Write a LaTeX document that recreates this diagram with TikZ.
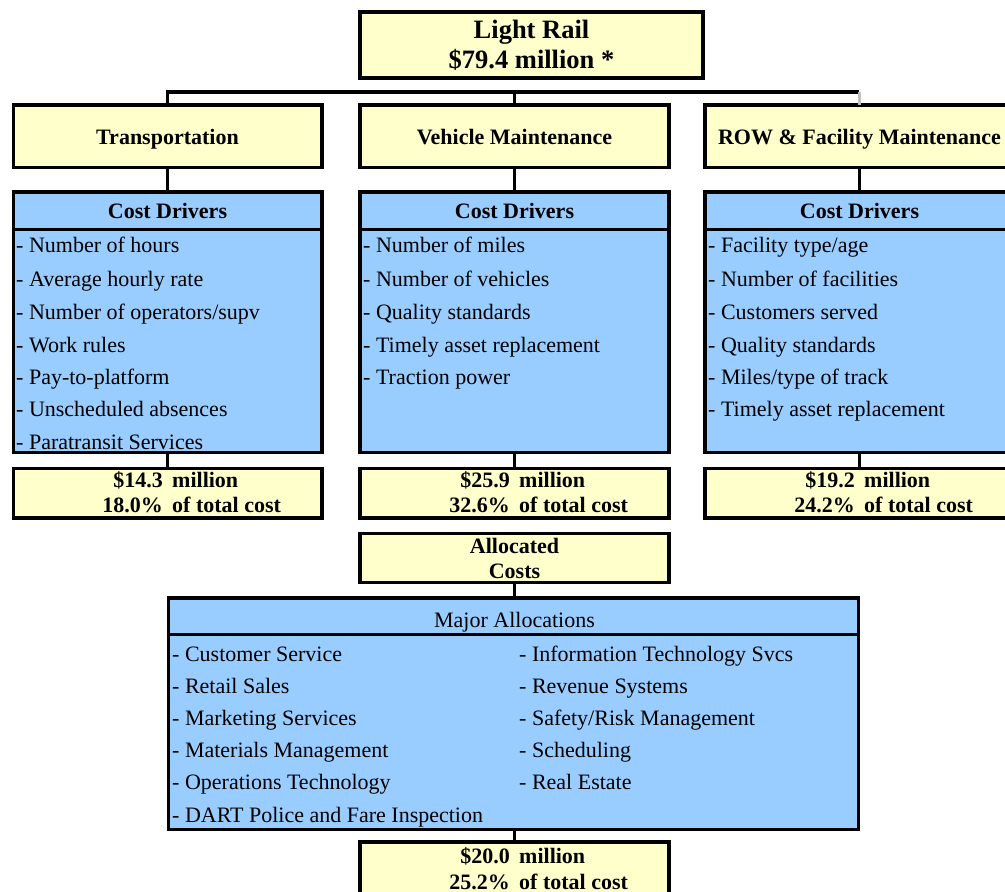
\documentclass[tikz,border=0pt]{standalone}
\usepackage{fontspec}
\setmainfont{Liberation Serif}
\definecolor{ly}{HTML}{FFFFCC}
\definecolor{lb}{HTML}{99CCFF}
\tikzset{
  ybox/.style={draw=black, line width=3.5pt, fill=ly, inner sep=0pt, outer sep=0pt},
  bbox/.style={draw=black, line width=3.5pt, fill=lb, inner sep=0pt, outer sep=0pt},
  conn/.style={draw=black, line width=3.5pt},
  divider/.style={draw=black, line width=3pt},
  hdr/.style={font=\fontsize{22}{26}\selectfont\bfseries, anchor=base, inner sep=0pt},
  big/.style={font=\fontsize{26.5}{30}\selectfont\bfseries, anchor=base, inner sep=0pt},
  item/.style={font=\fontsize{22}{26}\selectfont, anchor=base west, inner sep=0pt},
  plain/.style={font=\fontsize{22}{26}\selectfont, anchor=base, inner sep=0pt},
  numr/.style={font=\fontsize{22}{26}\selectfont\bfseries, anchor=base east, inner sep=0pt},
  numl/.style={font=\fontsize{22}{26}\selectfont\bfseries, anchor=base west, inner sep=0pt},
}
\begin{document}
\begin{tikzpicture}[x=1pt,y=-1pt]
\useasboundingbox (0,0) rectangle (1005,892);
\clip (0,0) rectangle (1005,892);
\fill[white] (0,0) rectangle (1005,892);

% ---- boxes ----
\node[ybox, minimum width=343pt, minimum height=66pt] (top) at (531.5,45) {};
\node[ybox, minimum width=308.5pt, minimum height=62.5pt] (trans) at (167.5,136.25) {};
\node[ybox, minimum width=309pt, minimum height=62.5pt] (veh) at (514.5,136.25) {};
\node[ybox, minimum width=309pt, minimum height=62.5pt] (row) at (859.5,136.25) {};

\node[bbox, minimum width=308.5pt, minimum height=260.7pt] (cd1) at (167.5,322.35) {};
\node[bbox, minimum width=309pt, minimum height=260.7pt] (cd2) at (514.5,322.35) {};
\node[bbox, minimum width=309pt, minimum height=260.7pt] (cd3) at (859.5,322.35) {};

\node[ybox, minimum width=308.5pt, minimum height=49.3pt] (m1) at (167.5,493.35) {};
\node[ybox, minimum width=309pt, minimum height=49.3pt] (m2) at (514.5,493.35) {};
\node[ybox, minimum width=309pt, minimum height=49.3pt] (m3) at (859.5,493.35) {};

\node[ybox, minimum width=309pt, minimum height=49pt] (alloc) at (514.5,558.2) {};
\node[bbox, minimum width=690pt, minimum height=231.3pt] (major) at (513.7,713.65) {};
\node[ybox, minimum width=309pt, minimum height=58pt] (m4) at (514.5,871) {};

% ---- dividers ----
\draw[divider] (cd1.west |- 0,229) -- (cd1.east |- 0,229);
\draw[divider] (cd2.west |- 0,229) -- (cd2.east |- 0,229);
\draw[divider] (cd3.west |- 0,229) -- (cd3.east |- 0,229);
\draw[divider] (major.west |- 0,634.3) -- (major.east |- 0,634.3);

% ---- connectors ----
\coordinate (busR) at (858.5,92);
\draw[conn] (trans.north) |- (busR);
\draw[conn] (veh.north) -- (veh.north |- busR);
\draw[draw=black!25, line width=3pt] (row.north) -- (row.north |- busR);
\draw[conn] (trans.south) -- (cd1.north);
\draw[conn] (veh.south) -- (cd2.north);
\draw[conn] (row.south) -- (cd3.north);
\draw[conn] (cd1.south) -- (m1.north);
\draw[conn] (cd2.south) -- (m2.north);
\draw[conn] (cd3.south) -- (m3.north);
\draw[conn] (alloc.south) -- (major.north -| alloc.south);
\draw[conn] (major.south -| m4.north) -- (m4.north);

% ---- texts ----
\node[big] (tl1) at (531.5,38) {Light Rail};
\node[big] (tl2) at (531.5,68) {\$79.4 million *};

\node[hdr] (h1) at (167.5,144) {Transportation};
\node[hdr] (h2) at (514.5,144) {Vehicle Maintenance};
\node[hdr] (h3) at (859.5,144) {ROW \& Facility Maintenance};

\node[hdr] (c1) at (167.5,218) {Cost Drivers};
\node[hdr] (c2) at (514.5,218) {Cost Drivers};
\node[hdr] (c3) at (859.5,218) {Cost Drivers};

\node[item] (a1) at (16,252) {- Number of hours};
\node[item] (a2) at (16,286) {- Average hourly rate};
\node[item] (a3) at (16,319) {- Number of operators/supv};
\node[item] (a4) at (16,352) {- Work rules};
\node[item] (a5) at (16,384) {- Pay-to-platform};
\node[item] (a6) at (16,416) {- Unscheduled absences};
\node[item] (a7) at (16,449) {- Paratransit Services};

\node[item] (b1) at (363,252) {- Number of miles};
\node[item] (b2) at (363,286) {- Number of vehicles};
\node[item] (b3) at (363,319) {- Quality standards};
\node[item] (b4) at (363,352) {- Timely asset replacement};
\node[item] (b5) at (363,384) {- Traction power};

\node[item] (d1) at (708,252) {- Facility type/age};
\node[item] (d2) at (708,286) {- Number of facilities};
\node[item] (d3) at (708,319) {- Customers served};
\node[item] (d4) at (708,352) {- Quality standards};
\node[item] (d5) at (708,384) {- Miles/type of track};
\node[item] (d6) at (708,416) {- Timely asset replacement};

\node[numr] (n1a) at (163,487) {\$14.3};
\node[numl] (n1b) at (172,487) {million};
\node[numr] (n1c) at (163,512) {18.0\%};
\node[numl] (n1d) at (172,512) {of total cost};

\node[numr] (n2a) at (510,487) {\$25.9};
\node[numl] (n2b) at (519,487) {million};
\node[numr] (n2c) at (510,512) {32.6\%};
\node[numl] (n2d) at (519,512) {of total cost};

\node[numr] (n3a) at (855,487) {\$19.2};
\node[numl] (n3b) at (864,487) {million};
\node[numr] (n3c) at (855,512) {24.2\%};
\node[numl] (n3d) at (864,512) {of total cost};

\node[hdr] (al1) at (514.5,553) {Allocated};
\node[hdr] (al2) at (514.5,578) {Costs};

\node[plain] (mj) at (514.5,627) {Major Allocations};
\node[item] (e1) at (172,661) {- Customer Service};
\node[item] (e2) at (172,693) {- Retail Sales};
\node[item] (e3) at (172,725) {- Marketing Services};
\node[item] (e4) at (172,757) {- Materials Management};
\node[item] (e5) at (172,789) {- Operations Technology};
\node[item] (e6) at (172,822) {- DART Police and Fare Inspection};
\node[item] (f1) at (519,661) {- Information Technology Svcs};
\node[item] (f2) at (519,693) {- Revenue Systems};
\node[item] (f3) at (519,725) {- Safety/Risk Management};
\node[item] (f4) at (519,757) {- Scheduling};
\node[item] (f5) at (519,789) {- Real Estate};

\node[numr] (n4a) at (510,863) {\$20.0};
\node[numl] (n4b) at (519,863) {million};
\node[numr] (n4c) at (510,889) {25.2\%};
\node[numl] (n4d) at (519,889) {of total cost};
\end{tikzpicture}
\end{document}
